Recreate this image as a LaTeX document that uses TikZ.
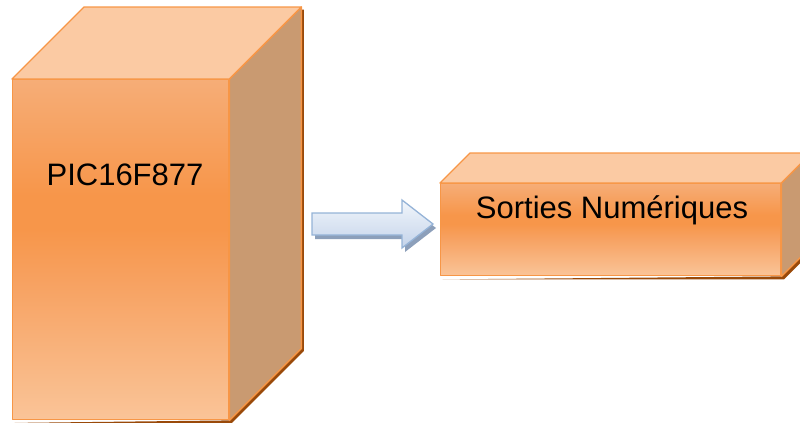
\documentclass[tikz,border=0pt]{standalone}
\usepackage{fontspec}
\setmainfont{Liberation Sans}
\usetikzlibrary{calc,backgrounds}
\definecolor{boxline}{HTML}{F79646}
\definecolor{topc}{HTML}{FBCAA3}
\definecolor{sidec}{HTML}{C99A71}
\definecolor{frontA}{HTML}{F6AD77}
\definecolor{frontM}{HTML}{F7A262}
\definecolor{frontB}{HTML}{F7964A}
\definecolor{frontC}{HTML}{FAC498}
\definecolor{shadowc}{HTML}{9A4A0A}
\definecolor{arrline}{HTML}{95B3D7}
\definecolor{arrtop}{HTML}{F2F6FB}
\definecolor{arrbot}{HTML}{C3D3EA}
\definecolor{arrshadow}{HTML}{8C9FBA}
\pgfdeclareverticalshading{boxfront}{100bp}{color(0bp)=(frontC); color(25bp)=(frontC);
  color(45bp)=(frontM); color(53bp)=(frontB); color(58bp)=(frontB); color(75bp)=(frontA); color(100bp)=(frontA)}
\begin{document}
\begin{tikzpicture}[x=1pt,y=-1pt,
  edge/.style={draw=boxline, line width=1.4pt, line join=round},
  frontface/.style={edge, rectangle, inner sep=0pt, anchor=north west, shading=boxfront},
  topface/.style={edge, fill=topc},
  sideface/.style={edge, fill=sidec},
  boxshadow/.style={fill=shadowc},
  lbl/.style={font=\fontsize{31}{37}\selectfont, text=black, anchor=base, inner sep=0pt},
  blockarrow/.style={draw=arrline, line width=1.3pt, line join=miter, top color=arrtop, bottom color=arrbot},
  arrowshadow/.style={fill=arrshadow}]
\useasboundingbox (0,0) rectangle (800,423);

% ---- big box: PIC16F877
\node[frontface, minimum width=216pt, minimum height=340pt] (pic) at (12,79) {};
\coordinate (picBTL) at ($(pic.north west)+(72,-72)$);
\coordinate (picBTR) at ($(pic.north east)+(72,-72)$);
\coordinate (picBBR) at ($(pic.south east)+(72,-72)$);
\begin{scope}[on background layer]
  \fill[boxshadow] ($(pic.south west)+(2.5,2.5)$) -- ($(pic.south east)+(2.5,2.5)$)
    -- ($(picBBR)+(2.5,2.5)$) -- ($(picBTR)+(2.5,2.5)$) -- ($(picBTR)+(0,2.5)$)
    -- (pic.south east) -- cycle;
\end{scope}
\draw[sideface] (pic.north east) -- (picBTR) -- (picBBR) -- (pic.south east) -- cycle;
\draw[topface] (pic.north west) -- (picBTL) -- (picBTR) -- (pic.north east) -- cycle;
\node[lbl] (pictext) at (125,185) {PIC16F877};

% ---- small box: Sorties Numériques
\node[frontface, minimum width=340pt, minimum height=92pt] (out) at (440,183) {};
\coordinate (outBTL) at ($(out.north west)+(30,-30)$);
\coordinate (outBTR) at ($(out.north east)+(30,-30)$);
\coordinate (outBBR) at ($(out.south east)+(30,-30)$);
\begin{scope}[on background layer]
  \fill[boxshadow] ($(out.south west)+(2.5,3)$) -- ($(out.south east)+(2.5,3)$)
    -- ($(outBBR)+(2.5,3)$) -- (outBBR) -- (out.south east) -- cycle;
\end{scope}
\draw[sideface] (out.north east) -- (outBTR) -- (outBBR) -- (out.south east) -- cycle;
\draw[topface] (out.north west) -- (outBTL) -- (outBTR) -- (out.north east) -- cycle;
\node[lbl] (outtext) at (612,218) {Sorties Numériques};

% ---- block arrow between the boxes
\coordinate (a1) at (312,213);
\coordinate (a2) at (402,213);
\coordinate (a3) at (402,200);
\coordinate (tip) at (433,224);
\coordinate (a5) at (402,248);
\coordinate (a6) at (402,235);
\coordinate (a7) at (312,235);
\fill[arrowshadow] ($(a1)+(3,4)$) -- ($(a2)+(3,4)$) -- ($(a3)+(3,4)$) -- ($(tip)+(3,4)$)
  -- ($(a5)+(3,4)$) -- ($(a6)+(3,4)$) -- ($(a7)+(3,4)$) -- cycle;
\path[blockarrow] (a1) -- (a2) -- (a3) -- (tip) -- (a5) -- (a6) -- (a7) -- cycle;
\end{tikzpicture}
\end{document}
